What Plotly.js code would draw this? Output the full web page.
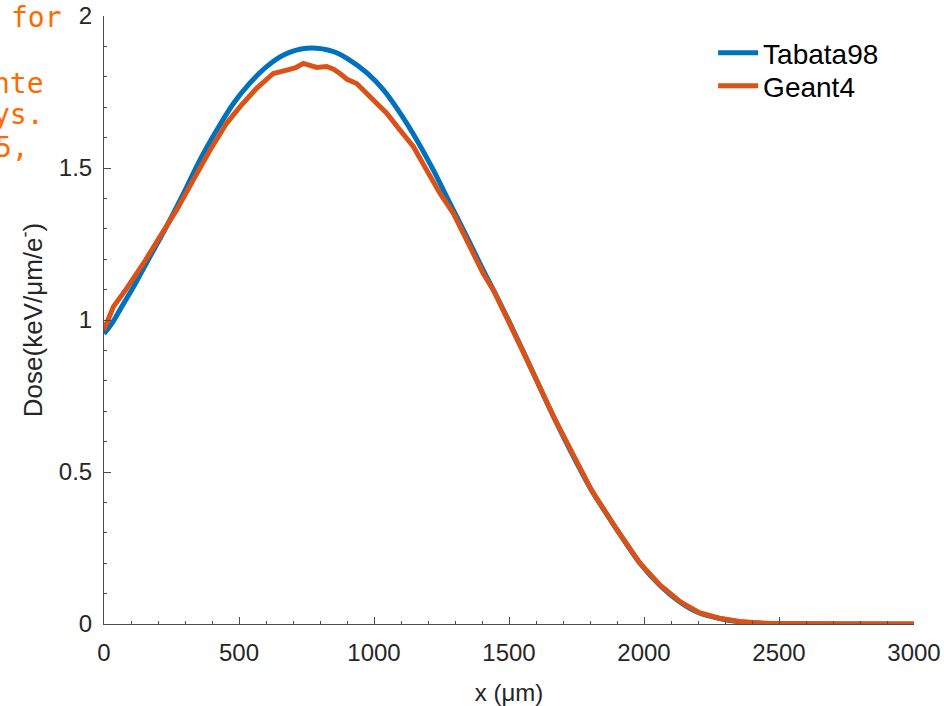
<!DOCTYPE html>
<html>
<head>
<meta charset="utf-8">
<script src="https://cdn.plot.ly/plotly-3.0.1.min.js"></script>
<style>html,body{margin:0;padding:0;background:#fff;}#chart{width:944px;height:706px;}</style>
</head>
<body>
<div id="chart"></div>
<script>
// Tabata98 (smooth model curve)
const tabataX = [0, 30, 60, 110, 170, 230, 295, 355, 420, 480, 540, 600, 665, 750, 850, 910, 975, 1035, 1095, 1160, 1220, 1280, 1345, 1405, 1445, 1515, 1590, 1665, 1740, 1805, 1900, 1985, 2060, 2135, 2205, 2280, 2355, 2430, 2550, 2700, 3000];
const tabataY = [0.955, 0.99, 1.035, 1.11, 1.208, 1.305, 1.417, 1.526, 1.628, 1.713, 1.779, 1.832, 1.872, 1.894, 1.883, 1.855, 1.812, 1.757, 1.683, 1.59, 1.493, 1.386, 1.272, 1.163, 1.094, 0.968, 0.825, 0.682, 0.548, 0.441, 0.31, 0.2, 0.126, 0.071, 0.036, 0.018, 0.007, 0.003, 0.001, 0, 0];
// Geant4 (Monte Carlo curve)
const geantX = [0, 35, 84, 146, 207, 269, 331, 393, 454, 504, 565, 600, 627, 677, 710, 738, 765, 788, 825, 850, 874, 900, 936, 973, 1010, 1047, 1096, 1146, 1195, 1244, 1294, 1343, 1404, 1445, 1515, 1590, 1665, 1740, 1805, 1900, 1985, 2060, 2135, 2205, 2280, 2355, 2430, 2550, 2700, 3000];
const geantY = [0.968, 1.044, 1.104, 1.186, 1.274, 1.362, 1.461, 1.559, 1.647, 1.702, 1.762, 1.79, 1.811, 1.822, 1.83, 1.844, 1.838, 1.831, 1.834, 1.825, 1.811, 1.792, 1.778, 1.745, 1.713, 1.68, 1.625, 1.57, 1.493, 1.417, 1.351, 1.263, 1.154, 1.094, 0.968, 0.825, 0.682, 0.55, 0.441, 0.31, 0.2, 0.128, 0.073, 0.037, 0.019, 0.008, 0.003, 0.001, 0, 0];

const seriesNames = ["Tabata98", "Geant4"];
const xTickVals = [0, 500, 1000, 1500, 2000, 2500, 3000];
const yTickVals = [0, 0.5, 1, 1.5, 2];
const yTickText = ["0", "0.5", "1", "1.5", "2"];
const sideText = ["for", "nte", "ys.", "5,"];

const font = "Liberation Sans, Arial, Helvetica, sans-serif";
const axisColor = "#4d4d4d";

const traces = [
  {x: tabataX, y: tabataY, name: seriesNames[0], type: "scatter", mode: "lines", legend: "legend",
   line: {color: "#0072BD", width: 5, shape: "spline", smoothing: 1}},
  {x: geantX, y: geantY, name: seriesNames[1], type: "scatter", mode: "lines", legend: "legend2",
   line: {color: "#D95319", width: 5, shape: "linear"}}
];

const sidePos = [[64, 17], [46, 84], [46, 115], [31, 147]];
const annotations = sideText.map((t, i) => ({
  text: t, xref: "paper", yref: "paper",
  x: (sidePos[i][0] - 104) / 810, y: (624 - sidePos[i][1]) / 608,
  xanchor: "right", yanchor: "middle", showarrow: false,
  font: {family: "DejaVu Sans Mono, monospace", size: 28, color: "#FF6A00"}
}));

const legendCommon = {xanchor: "left", yanchor: "top", font: {family: font, size: 28, color: "#000"},
                      bgcolor: "rgba(0,0,0,0)", itemwidth: 40};

const layout = {
  width: 944, height: 706,
  margin: {l: 104, r: 30, t: 16, b: 82},
  paper_bgcolor: "#fff", plot_bgcolor: "#fff",
  showlegend: true,
  legend: Object.assign({x: 0.752, y: (624 - 28) / 608}, legendCommon),
  legend2: Object.assign({x: 0.752, y: (624 - 61) / 608}, legendCommon),
  xaxis: {
    range: [0, 3000], tickvals: xTickVals, ticks: "inside", ticklen: 7, tickcolor: axisColor,
    showline: true, linecolor: axisColor, linewidth: 1, showgrid: false, zeroline: false,
    tickfont: {family: font, size: 24, color: "#262626"}, ticklabelstandoff: 7,
    minor: {dtick: 100, ticks: "inside", ticklen: 3, tickcolor: axisColor, showgrid: false},
    title: {text: "x (μm)", font: {family: font, size: 24, color: "#262626"}}
  },
  yaxis: {
    range: [0, 2], tickvals: yTickVals, ticktext: yTickText, ticks: "inside", ticklen: 7, tickcolor: axisColor,
    showline: true, linecolor: axisColor, linewidth: 1, showgrid: false, zeroline: false,
    tickfont: {family: font, size: 24, color: "#262626"}, ticklabelstandoff: 6,
    minor: {dtick: 0.1, ticks: "inside", ticklen: 3, tickcolor: axisColor, showgrid: false},
    title: {text: "Dose(keV/μm/e<sup>-</sup>)", font: {family: font, size: 26, color: "#262626"}}
  },
  annotations: annotations
};

Plotly.newPlot("chart", traces, layout, {displayModeBar: false, staticPlot: true});
</script>
</body>
</html>
